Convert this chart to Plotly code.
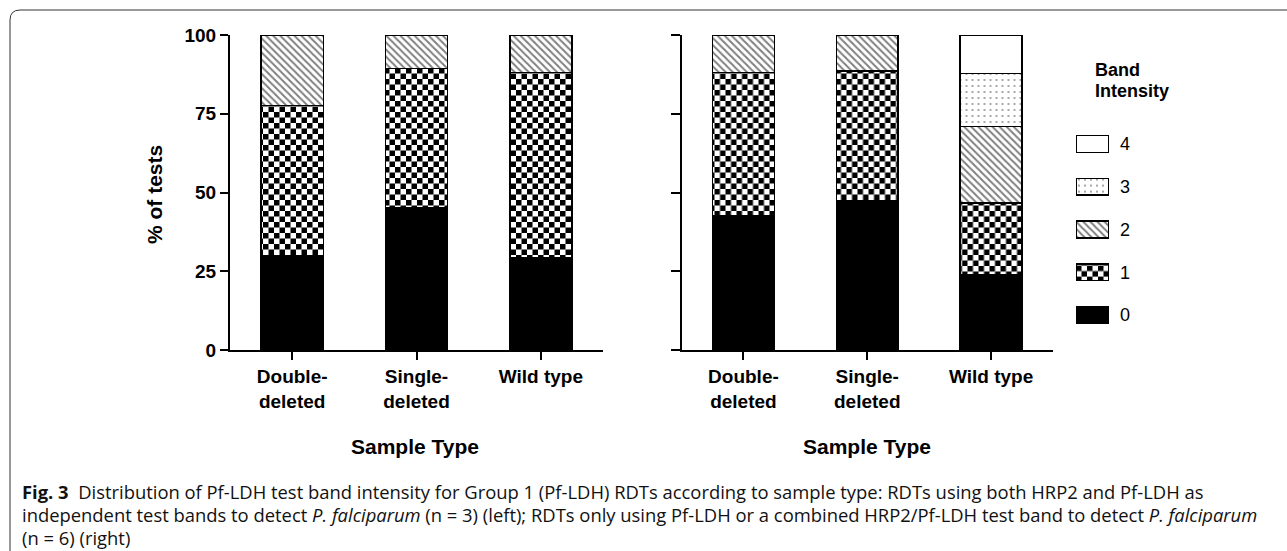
import plotly.graph_objects as go

W, H = 1287, 551

# ---------------- data ----------------
categories = ["Double-<br>deleted", "Single-<br>deleted", "Wild type"]
band_names = ["0", "1", "2", "3", "4"]

# left panel (n = 3)
left_band0 = [30.0, 45.2, 29.3]
left_band1 = [47.7, 44.2, 58.8]
left_band2 = [22.3, 10.6, 11.9]

# right panel (n = 6)
right_band0 = [42.5, 47.3, 23.8]
right_band1 = [45.6, 41.3, 22.8]
right_band2 = [11.9, 11.4, 24.3]
right_band3 = [0.0, 0.0, 16.9]
right_band4 = [0.0, 0.0, 12.2]

y_ticks = [0, 25, 50, 75, 100]

# ---------------- styles ----------------
FONT = "Liberation Sans, Arial, Helvetica, sans-serif"
CHECK = 11  # pattern tile size used to mark the checkerboard series
styles = {
    "0": dict(color="black", pattern=None),
    "1": dict(color="white", pattern=dict(shape="+", size=CHECK, solidity=0.5,
                                          fgcolor="black", bgcolor="white")),
    "2": dict(color="white", pattern=dict(shape="\\", size=5, solidity=0.4,
                                          fgcolor="black", bgcolor="white")),
    "3": dict(color="white", pattern=dict(shape=".", size=6, solidity=0.07,
                                          fgcolor="black", bgcolor="white")),
    "4": dict(color="white", pattern=None),
}


def marker_for(name):
    st = styles[name]
    m = dict(color=st["color"], line=dict(color="black", width=1.5))
    if st["pattern"]:
        m["pattern"] = st["pattern"]
    return m


fig = go.Figure()

left_series = {"0": left_band0, "1": left_band1, "2": left_band2}
right_series = {"0": right_band0, "1": right_band1, "2": right_band2,
                "3": right_band3, "4": right_band4}

for name, vals in left_series.items():
    fig.add_trace(go.Bar(x=categories, y=vals, name=name, width=0.5,
                         marker=marker_for(name), xaxis="x", yaxis="y",
                         showlegend=False))
for name, vals in right_series.items():
    fig.add_trace(go.Bar(x=categories, y=vals, name=name, width=0.5,
                         marker=marker_for(name), xaxis="x2", yaxis="y2",
                         showlegend=False))

# custom legend drawn as small horizontal bars on their own axis
for i, name in enumerate(band_names):
    fig.add_trace(go.Bar(x=[1], y=[i], orientation="h", width=0.39, base=0,
                         marker=marker_for(name), xaxis="x3", yaxis="y3",
                         showlegend=False))

ydom = [1 - 350 / H, 1 - 35 / H]
axis_common = dict(showline=True, linecolor="black", linewidth=2,
                   ticks="outside", tickcolor="black", tickwidth=2,
                   showgrid=False, zeroline=False)
xtick_font = dict(family=FONT, size=19, color="black", weight="bold")

fig.update_layout(
    width=W, height=H, autosize=False,
    margin=dict(l=0, r=0, t=0, b=0),
    paper_bgcolor="white", plot_bgcolor="white",
    barmode="stack",
    showlegend=False,
    xaxis=dict(domain=[230 / W, 603 / W], type="category", range=[-0.5, 2.5],
               ticklen=8, tickfont=xtick_font, automargin=False, **axis_common),
    yaxis=dict(domain=ydom, range=[0, 100], tickvals=y_ticks, ticklen=8,
               tickfont=dict(family=FONT, size=19, color="black", weight="bold"),
               automargin=False, **axis_common),
    xaxis2=dict(domain=[681.5 / W, 1053 / W], type="category", range=[-0.5, 2.5],
                ticklen=8, tickfont=xtick_font, automargin=False, anchor="y2",
                **axis_common),
    yaxis2=dict(domain=ydom, range=[0, 100], tickvals=y_ticks, ticklen=9,
                showticklabels=False, automargin=False, anchor="x2", **axis_common),
    xaxis3=dict(domain=[1076 / W, 1109 / W], range=[0, 1], visible=False,
                anchor="y3", automargin=False, fixedrange=True),
    yaxis3=dict(domain=[1 - 336.4 / H, 1 - 122.6 / H], range=[-0.5, 4.5],
                anchor="x3", side="right", showline=False, showgrid=False,
                zeroline=False, ticks="", tickvals=list(range(len(band_names))),
                ticktext=band_names, ticklabelstandoff=10,
                tickfont=dict(family=FONT, size=18, color="black"),
                automargin=False),
)

title_font = dict(family=FONT, size=21, color="black", weight="bold")
ann = [
    dict(text="% of tests", x=155 / W, y=1 - 195 / H, textangle=-90,
         font=title_font),
    dict(text="Sample Type", x=415 / W, y=1 - 446 / H, font=title_font),
    dict(text="Sample Type", x=867 / W, y=1 - 446 / H, font=title_font),
    dict(text="Band", x=1093 / W, y=1 - 70 / H, xanchor="left",
         font=dict(family=FONT, size=18, color="black", weight="bold")),
    dict(text="Intensity", x=1093 / W, y=1 - 91 / H, xanchor="left",
         font=dict(family=FONT, size=18, color="black", weight="bold")),
]
cap_font = dict(family="Open Sans, Noto Sans, sans-serif", size=18.4, color="#111")
caption_lines = [
    "<b>Fig. 3</b>  Distribution of Pf-LDH test band intensity for Group 1 (Pf-LDH) RDTs according to sample type: RDTs using both HRP2 and Pf-LDH as",
    "independent test bands to detect <i>P. falciparum</i> (n = 3) (left); RDTs only using Pf-LDH or a combined HRP2/Pf-LDH test band to detect <i>P. falciparum</i>",
    "(n = 6) (right)",
]
for k, line in enumerate(caption_lines):
    ann.append(dict(text=line, x=20 / W, y=1 - (491 + 23 * k) / H,
                    xanchor="left", font=cap_font))
for a in ann:
    a.setdefault("xanchor", "center")
    a.update(xref="paper", yref="paper", yanchor="middle", showarrow=False)
fig.update_layout(annotations=ann)

# rounded frame around the figure
x0, y0, r = 10 / W, 1 - 10 / H, 10
frame = (f"M {x0},0 L {x0},{1 - (10 + r) / H} "
         f"Q {x0},{y0} {(10 + r) / W},{y0} L 1,{y0}")
fig.add_shape(type="path", path=frame, xref="paper", yref="paper",
              line=dict(color="#333", width=1))

checker_js = """
var gd = document.getElementById('{plot_id}');
var ns = 'http://www.w3.org/2000/svg';
gd.querySelectorAll('pattern').forEach(function(p){
  if (parseFloat(p.getAttribute('width')) === %d) {
    while (p.firstChild) p.removeChild(p.firstChild);
    var s = %d, h = s / 2;
    [[0,0,s,s,'white'],[0,0,h,h,'black'],[h,h,h,h,'black']].forEach(function(q){
      var e = document.createElementNS(ns, 'rect');
      e.setAttribute('x', q[0]); e.setAttribute('y', q[1]);
      e.setAttribute('width', q[2]); e.setAttribute('height', q[3]);
      e.setAttribute('fill', q[4]);
      p.appendChild(e);
    });
  }
});
""" % (CHECK, CHECK)

fig.write_html("out.html", config=dict(displayModeBar=False, staticPlot=True),
               post_script=checker_js)
